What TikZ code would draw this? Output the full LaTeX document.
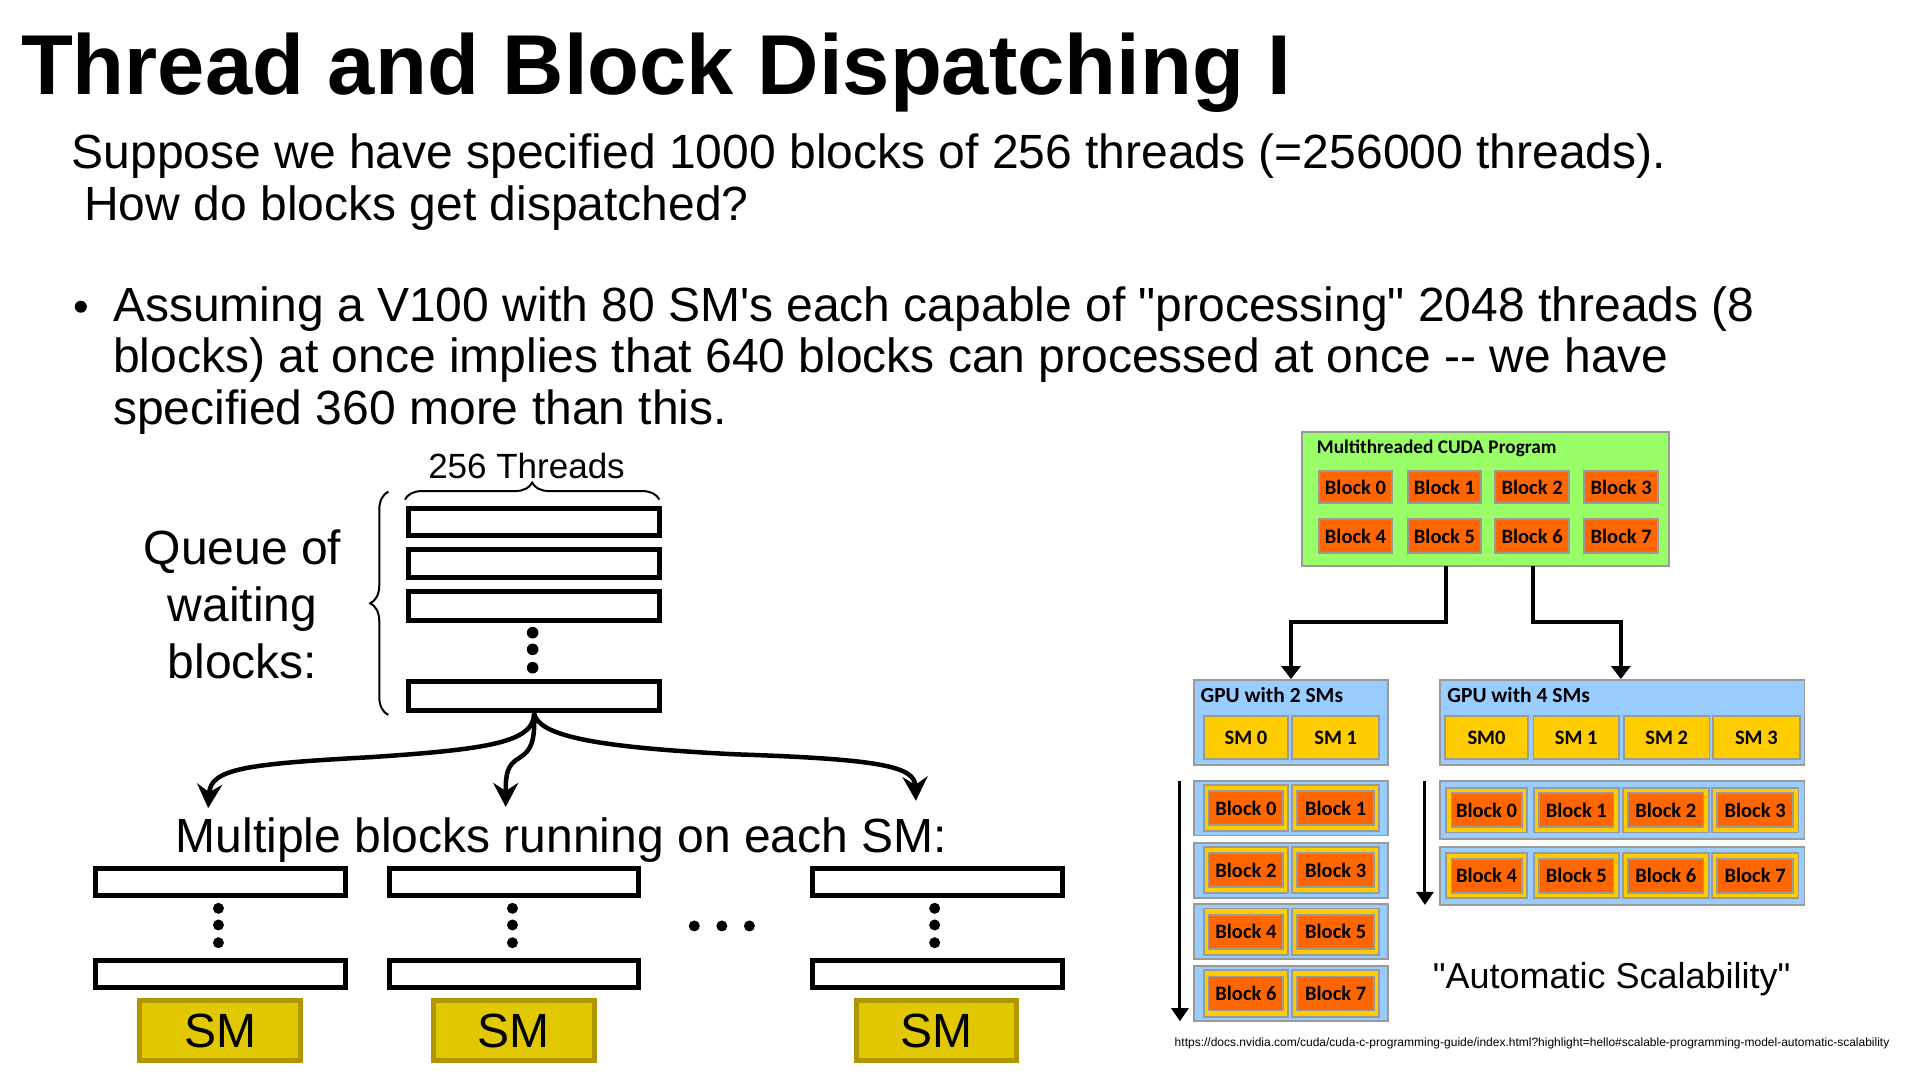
\documentclass[tikz,border=0pt]{standalone}
\usepackage{fontspec}
\setmainfont{Liberation Sans}
\newfontfamily\figfont{Carlito}
\usetikzlibrary{arrows.meta,decorations.pathreplacing,fit}

\definecolor{progGreen}{HTML}{99FF66}
\definecolor{blkOrange}{HTML}{FF6600}
\definecolor{gpuBlue}{HTML}{99CCFF}
\definecolor{smYellow}{HTML}{FFCC00}
\definecolor{edgeGrey}{HTML}{9A9A9A}
\definecolor{smGold}{HTML}{E2C800}
\definecolor{smGoldEdge}{HTML}{B09600}

\begin{document}
\begin{tikzpicture}[x=1.2245pt, y=-1.2245pt,
  body/.style={font=\fontsize{48}{57.6}\selectfont, inner sep=0pt, anchor=base west},
  qbox/.style={draw, line width=5pt, inner sep=0pt},
  smbox/.style={draw=smGoldEdge, fill=smGold, line width=5pt, inner sep=0pt},
  smlabel/.style={inner sep=0pt, font=\fontsize{48}{48}\selectfont},
  flow/.style={line width=4.5pt, -{Stealth[length=24pt,width=25pt,inset=8pt]}},
  figtext/.style={inner sep=0pt, anchor=base west, font=\figfont\bfseries\fontsize{21.5}{22}\selectfont},
  figlabel/.style={inner sep=0pt, font=\figfont\bfseries\fontsize{20.5}{22}\selectfont},
  fig/.style={inner sep=0pt, draw=edgeGrey, line width=1.8pt},
  prog/.style={fig, fill=progGreen},
  blk/.style={fig, fill=blkOrange},
  gpu/.style={fig, fill=gpuBlue},
  sm/.style={fig, fill=smYellow},
  link/.style={line width=4pt, -{Triangle[length=13pt,width=19pt]}},
  timeline/.style={line width=3pt, -{Triangle[length=13pt,width=17pt]}},
]
\useasboundingbox (0,0) rectangle (1568,882.8);
\fill[white] (0,0) rectangle (1568,882.8);

% heading and text
\node[anchor=base west, inner sep=0pt, font=\bfseries\fontsize{85}{90}\selectfont] (title) at (17,77) {Thread and Block Dispatching I};
\node[body] (intro1) at (58.4,138) {Suppose we have specified 1000 blocks of 256 threads (=256000 threads).};
\node[body] (intro2) at (68.7,180) {How do blocks get dispatched?};
\fill (66,250.5) circle[radius=6pt];
\node[body] (pt1) at (92.3,262.5) {Assuming a V100 with 80 SM\textquotesingle s each capable of \textquotedbl processing\textquotedbl\ 2048 threads (8};
\node[body] (pt2) at (92.3,304.5) {blocks) at once implies that 640 blocks can processed at once -\kern0pt- we have};
\node[body] (pt3) at (92.3,346.5) {specified 360 more than this.};

% queue of waiting blocks
\node[anchor=base, inner sep=0pt, font=\fontsize{35}{40}\selectfont] (tpb) at (430,390.6) {256 Threads};
\node[qbox, fit={(334,415) (538.4,437.6)}] (q1) {};
\node[qbox, fit={(334,449) (538.4,471.7)}] (q2) {};
\node[qbox, fit={(334,483.3) (538.4,506.5)}] (q3) {};
\node[qbox, fit={(334,556.8) (538.4,580.6)}] (qn) {};
\foreach \y in {516.7,530.3,545.3} \fill (435,\y) circle[radius=5.8pt];
\draw[line width=2pt, decorate, decoration={brace, amplitude=17pt}] (330.7,408) -- (538.5,408);
\draw[line width=2pt, decorate, decoration={brace, amplitude=18pt}] (317.1,583.9) -- (317.1,401.5);
\node[anchor=base, inner sep=0pt, font=\fontsize{48}{57.6}\selectfont] (ql1) at (198,460.6) {Queue of};
\node[anchor=base, inner sep=0pt, font=\fontsize{48}{57.6}\selectfont] (ql2) at (198,507.7) {waiting};
\node[anchor=base, inner sep=0pt, font=\fontsize{48}{57.6}\selectfont] (ql3) at (198,554) {blocks:};

% dispatch arrows
\coordinate (lt) at (170,660);
\coordinate (mt) at (413,659);
\coordinate (rt) at (748,654);
\draw[flow] (qn.south) .. controls (436,606) and (400,612) .. (300,618.5) .. controls (200,624) and (172,628) .. (lt);
\draw[flow] (qn.south) .. controls (437,605) and (434,613) .. (424,619) .. controls (414,625) and (413,632) .. (mt);
\draw[flow] (qn.south) .. controls (440,600) and (480,610) .. (600,616) .. controls (720,620) and (747,626) .. (rt);

\node[body] (multi) at (143.5,696.3) {Multiple blocks running on each SM:};

% SM columns
\foreach \n/\xa/\xb/\dx/\sa/\sb in {1/77.8/282.1/178.4/114.2/245.6, 2/318.4/521.6/418.5/353.8/485.2, 3/663.7/868/763.3/699.1/830.5} {
  \node[qbox, fit={(\xa,709) (\xb,731.6)}] (top\n) {};
  \node[qbox, fit={(\xa,784.1) (\xb,806.5)}] (bot\n) {};
  \foreach \y in {741.8,755.4,769.9} \fill (\dx,\y) circle[radius=5.5pt];
  \node[smbox, fit={(\sa,817.3) (\sb,866.4)}] (sm\n) {};
  \node[smlabel] (sml\n) at (sm\n) {SM};
}
\foreach \x in {567,589.5,612} \fill (\x,756.2) circle[radius=5.5pt];

% CUDA program
\node[prog, fit={(1063.5,353) (1363.3,462.3)}] (prog) {};
\node[figtext, font=\figfont\bfseries\fontsize{19.3}{22}\selectfont] (progt) at (1075.3,370.2) {Multithreaded CUDA Program};
\foreach \r/\ya/\yb in {0/384.4/411, 1/424.1/451.3}
  \foreach \c/\xa/\xb in {0/1077.4/1136.5, 1/1150.1/1209.2, 2/1220.9/1281.6, 3/1293.6/1354.3} {
    \pgfmathtruncatemacro\k{4*\r+\c}
    \node[blk, fit={(\xa,\ya) (\xb,\yb)}] (pb\k) {};
    \node[figlabel] (pbl\k) at (pb\k) {Block \k};
  }

% GPUs
\node[gpu, fit={(975.3,555.3) (1133.7,624.7)}] (gpu2) {};
\node[gpu, fit={(1176.3,555.3) (1473.6,624.7)}] (gpu4) {};
\node[figtext] (gpu2t) at (980.3,573.6) {GPU with 2 SMs};
\node[figtext] (gpu4t) at (1181.9,573.6) {GPU with 4 SMs};
\foreach \nm/\xa/\xb/\txt in {g2s0/983/1052/SM 0, g2s1/1055.3/1126.3/SM 1, g4s0/1180.3/1247.7/SM0, g4s1/1252.3/1322/SM 1, g4s2/1326.4/1396/SM 2, g4s3/1399/1469.7/SM 3} {
  \node[sm, fit={(\xa,584.8) (\xb,620.1)}] (\nm) {};
  \node[figlabel] (\nm l) at (\nm) {\txt};
}

\coordinate (p1) at (1180.6,462.3);
\coordinate (j1) at (1054.3,507.7);
\coordinate (p2) at (1251.7,462.3);
\coordinate (j2) at (1323.7,507.7);
\draw[link] (p1) |- (j1) -- (gpu2.north -| j1);
\draw[link] (p2) |- (j2) -- (gpu4.north -| j2);

% blocks on 2 SMs
\foreach \t/\b/\i/\j [count=\r] in {637.8/682.4/0/1, 688.2/733.1/2/3, 738.5/783.2/4/5, 788.9/833.8/6/7} {
  \node[gpu, fit={(975.3,\t) (1133.7,\b)}] (ls\r) {};
  \node[sm, fit={(983,\t+3.5) (1052,\b-3.5)}] (ly\i) {};
  \node[sm, fit={(1055.3,\t+3.5) (1126.3,\b-3.5)}] (ly\j) {};
  \node[blk, fit={(987,\t+8.5) (1048,\b-8.5)}] (lb\i) {};
  \node[blk, fit={(1059.3,\t+8.5) (1122.3,\b-8.5)}] (lb\j) {};
  \node[figlabel] (lbl\i) at (lb\i) {Block \i};
  \node[figlabel] (lbl\j) at (lb\j) {Block \j};
}
% blocks on 4 SMs
\foreach \t/\b/\o [count=\r] in {637.8/685.4/0, 691.4/739.1/4} {
  \node[gpu, fit={(1176.3,\t) (1473.6,\b)}] (rs\r) {};
  \foreach \xa/\xb [count=\c from 0] in {1181/1247, 1252.7/1322, 1325.3/1395.4, 1398/1468.7} {
    \pgfmathtruncatemacro\k{\o+\c}
    \node[sm, fit={(\xa,\t+5.5) (\xb,\b-5.5)}] (ry\k) {};
    \node[blk, fit={(\xa+4.3,\t+10) (\xb-4.3,\b-10)}] (rb\k) {};
    \node[figlabel] (rbl\k) at (rb\k) {Block \k};
  }
}

% time arrows
\coordinate (ta) at (963.6,637.8);
\coordinate (tb) at (963.6,834);
\coordinate (tc) at (1163.7,637.8);
\coordinate (td) at (1163.7,739);
\draw[timeline] (ta) -- (tb);
\draw[timeline] (tc) -- (td);

\node[anchor=base west, inner sep=0pt, font=\fontsize{36}{40}\selectfont] (auto) at (1170,807) {\textquotedbl Automatic Scalability\textquotedbl};
\node[anchor=base west, inner sep=0pt, font=\fontsize{12}{12}\selectfont] (url) at (959.2,854.8) {https://docs.nvidia.com/cuda/cuda-c-programming-guide/index.html?highlight=hello\#scalable-programming-model-automatic-scalability};
\end{tikzpicture}
\end{document}
